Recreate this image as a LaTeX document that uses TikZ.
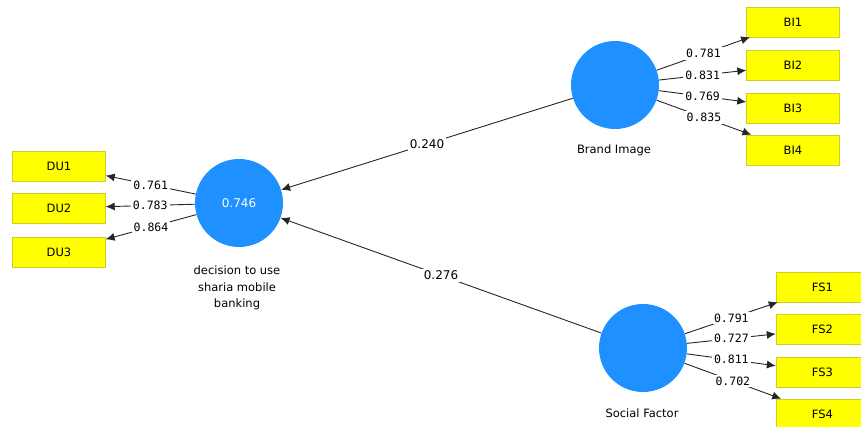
\documentclass[tikz,border=0pt]{standalone}
\usepackage{fontspec}
\setmainfont{DejaVu Sans}
\newfontfamily\loadfont{DejaVu Sans Mono}
\usetikzlibrary{arrows.meta}
\definecolor{plsblue}{RGB}{30,144,255}
\definecolor{plsyellow}{RGB}{255,255,0}
\definecolor{plsedge}{RGB}{205,205,40}

\begin{document}
\begin{tikzpicture}[x=1pt,y=-1pt,
	latent/.style={circle,fill=plsblue,minimum size=88pt,inner sep=0pt},
	indicator/.style={rectangle,draw=plsedge,fill=plsyellow,minimum width=93pt,minimum height=30pt,font=\fontsize{11.5}{13}\selectfont},
	link/.style={draw=black!85,line width=0.9pt,-{Latex[length=9pt,width=8pt]}},
	coef/.style={fill=white,inner sep=2pt,font=\fontsize{12}{13}\selectfont},
	loading/.style={fill=white,inner sep=2pt,font=\loadfont\fontsize{11.5}{12}\selectfont}]
\useasboundingbox (0,0) rectangle (861,427);
\clip (0,0) rectangle (861,427);
% latent variables
\node [latent,text=white,font=\fontsize{12}{13}\selectfont] (du) at (239,203) {0.746};
\node [latent] (bi) at (615,85) {};
\node [latent] (sf) at (643,348) {};
\node [align=center,font=\fontsize{11.5}{16.5}\selectfont] (dulabel) at (237,288) {decision to use\\sharia mobile\\banking};
\node [font=\fontsize{11.5}{13}\selectfont] (bilabel) at (614,150) {Brand Image};
\node [font=\fontsize{11.5}{13}\selectfont] (sflabel) at (642,413) {Social Factor};
% indicators
\node [indicator] (du1) at (59,166) {DU1};
\node [indicator] (du2) at (59,208) {DU2};
\node [indicator] (du3) at (59,252) {DU3};
\node [indicator] (bi1) at (793,22) {BI1};
\node [indicator] (bi2) at (793,65) {BI2};
\node [indicator] (bi3) at (793,108) {BI3};
\node [indicator] (bi4) at (793,150) {BI4};
\node [indicator] (fs1) at (822.5,287) {FS1};
\node [indicator] (fs2) at (822.5,329) {FS2};
\node [indicator] (fs3) at (822.5,372) {FS3};
\node [indicator] (fs4) at (822.5,414) {FS4};
% structural paths
\draw [link] (bi) -- node [coef] {0.240} (du);
\draw [link] (sf) -- node [coef] {0.276} (du);
% outer loadings
\draw [link] (du) -- node [loading] {0.761} (du1);
\draw [link] (du) -- node [loading] {0.783} (du2);
\draw [link] (du) -- node [loading] {0.864} (du3);
\draw [link] (bi) -- node [loading] {0.781} (bi1);
\draw [link] (bi) -- node [loading] {0.831} (bi2);
\draw [link] (bi) -- node [loading] {0.769} (bi3);
\draw [link] (bi) -- node [loading] {0.835} (bi4);
\draw [link] (sf) -- node [loading] {0.791} (fs1);
\draw [link] (sf) -- node [loading] {0.727} (fs2);
\draw [link] (sf) -- node [loading] {0.811} (fs3);
\draw [link] (sf) -- node [loading] {0.702} (fs4);
\end{tikzpicture}
\end{document}
